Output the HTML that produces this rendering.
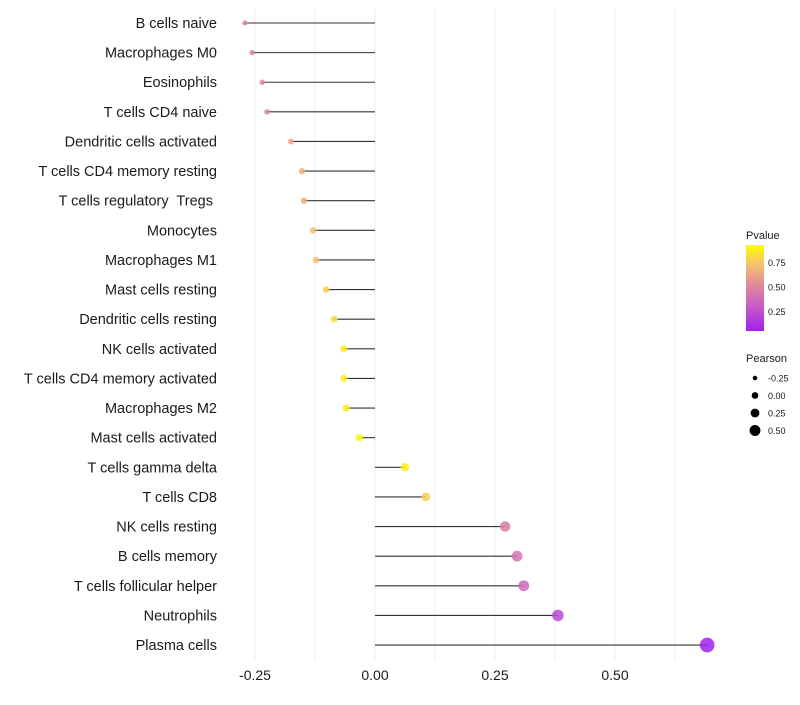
<!DOCTYPE html>
<html><head><meta charset="utf-8"><style>
body{margin:0;background:#fff;font-family:"Liberation Sans",sans-serif}
text{white-space:pre}
</style></head><body>
<svg id="c" width="800" height="700" xmlns="http://www.w3.org/2000/svg"></svg>
<script>
const categories=["B cells naive","Macrophages M0","Eosinophils","T cells CD4 naive","Dendritic cells activated","T cells CD4 memory resting","T cells regulatory  Tregs ","Monocytes","Macrophages M1","Mast cells resting","Dendritic cells resting","NK cells activated","T cells CD4 memory activated","Macrophages M2","Mast cells activated","T cells gamma delta","T cells CD8","NK cells resting","B cells memory","T cells follicular helper","Neutrophils","Plasma cells"];
const pearson=[-0.271,-0.256,-0.235,-0.225,-0.175,-0.152,-0.148,-0.129,-0.123,-0.102,-0.085,-0.065,-0.065,-0.060,-0.033,0.0625,0.106,0.271,0.296,0.310,0.381,0.692];
const pvalue=[0.45,0.47,0.5,0.5,0.62,0.66,0.66,0.72,0.72,0.78,0.82,0.88,0.88,0.87,0.92,0.88,0.78,0.45,0.42,0.37,0.22,0.06];
const xTicks=[-0.25,0,0.25,0.5];
const xTickLabels=["-0.25","0.00","0.25","0.50"];
const pTicks=[0.25,0.5,0.75];
const sizeTicks=[-0.25,0,0.25,0.5];
const NS="http://www.w3.org/2000/svg",svg=document.getElementById('c');
function el(t,a,p){const e=document.createElementNS(NS,t);for(const k in a)e.setAttribute(k,a[k]);(p||svg).appendChild(e);return e;}
const x=v=>375+v*480, y=i=>23+i*29.62;
const r=v=>3.9+5*v;
const stops=[[0,[160,32,240]],[0.33,[205,100,190]],[0.55,[225,140,150]],[0.78,[245,195,110]],[1,[255,255,0]]];
function col(p){const t=Math.max(0,Math.min(1,(p-0.05)/0.88));for(let i=1;i<stops.length;i++){if(t<=stops[i][0]){const a=stops[i-1],b=stops[i],f=(t-a[0])/(b[0]-a[0]);return 'rgb('+a[1].map((c,j)=>Math.round(c+(b[1][j]-c)*f)).join(',')+')';}}return 'rgb(255,255,0)';}
const grid=el('g',{});


for(let v=-0.25;v<=0.626;v+=0.125){el('line',{x1:x(v),x2:x(v),y1:8,y2:660,stroke:'#ececec','stroke-width':1},grid);}
categories.forEach((c,i)=>{
 const t=el('text',{x:217,y:y(i)+5,'text-anchor':'end','font-size':14.5,fill:'#1a1a1a'});t.textContent=c;
 
 
 const l=el('line',{x1:x(0),x2:x(pearson[i]),y1:y(i),y2:y(i),stroke:'#000','stroke-width':1.1,opacity:0.8});
 
 
 const d=el('circle',{cx:x(pearson[i]),cy:y(i),r:r(pearson[i]),fill:col(pvalue[i]),opacity:0.85});
 
 
});
xTicks.forEach((v,i)=>{const t=el('text',{x:x(v),y:680,'text-anchor':'middle','font-size':14,fill:'#1a1a1a'});t.textContent=xTickLabels[i];
 
 });
const lg=el('g',{});


const lt=el('text',{x:746,y:239,'font-size':11,fill:'#1a1a1a'},lg);lt.textContent='Pvalue';
const defs=el('defs',{});const gr=el('linearGradient',{id:'pg',x1:0,y1:1,x2:0,y2:0},defs);
stops.forEach(s=>el('stop',{offset:s[0],'stop-color':'rgb('+s[1].join(',')+')'},gr));
el('rect',{x:746,y:245,width:18,height:86,fill:'url(#pg)'},lg);
const py=p=>331-(p-0.05)/0.88*86;
pTicks.forEach(p=>{const t=el('text',{x:768,y:py(p)+3.5,'font-size':9,fill:'#1a1a1a'},lg);t.textContent=p.toFixed(2);});
const sg=el('g',{});


const st=el('text',{x:746,y:362,'font-size':11,fill:'#1a1a1a'},sg);st.textContent='Pearson';
sizeTicks.forEach((v,i)=>{const cy=378+i*17.5;el('circle',{cx:755,cy:cy,r:r(v)*0.85,fill:'#000'},sg);
 const t=el('text',{x:768,y:cy+3.5,'font-size':9,fill:'#1a1a1a'},sg);t.textContent=v.toFixed(2);});
</script>
</body></html>
